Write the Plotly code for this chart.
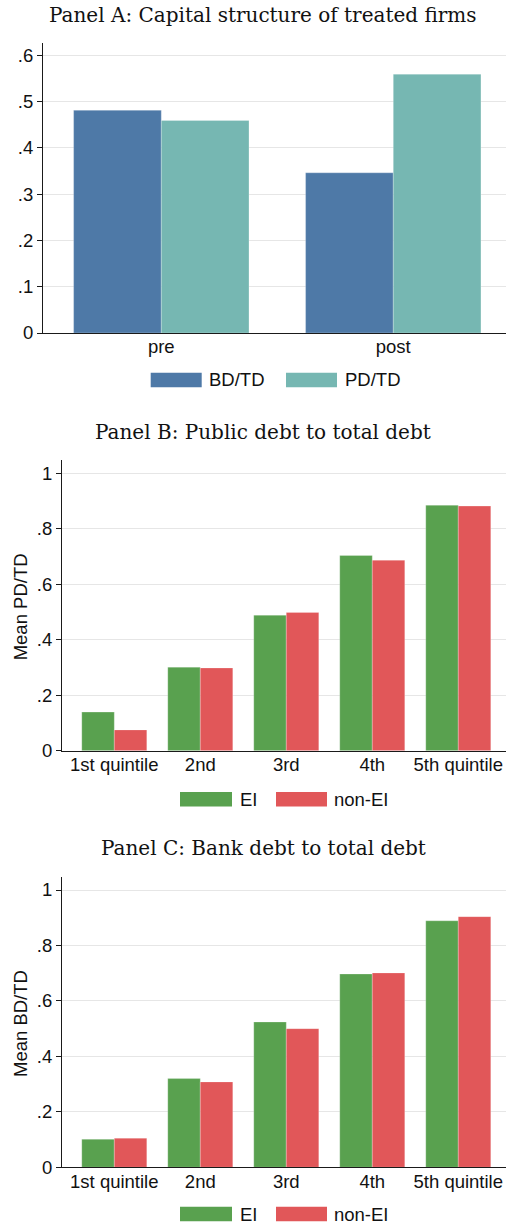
import plotly.graph_objects as go

# ---- data -------------------------------------------------------------
periods = ["pre", "post"]
bd_td = [0.481, 0.346]
pd_td = [0.459, 0.559]

quintiles = ["1st quintile", "2nd", "3rd", "4th", "5th quintile"]
ei_pd = [0.139, 0.301, 0.488, 0.703, 0.884]
nonei_pd = [0.075, 0.298, 0.498, 0.686, 0.881]
ei_bd = [0.101, 0.320, 0.524, 0.697, 0.889]
nonei_bd = [0.105, 0.308, 0.500, 0.701, 0.904]

ticks_a = [0, 0.1, 0.2, 0.3, 0.4, 0.5, 0.6]
ticklabels_a = ["0", ".1", ".2", ".3", ".4", ".5", ".6"]
ticks_bc = [0, 0.2, 0.4, 0.6, 0.8, 1.0]
ticklabels_bc = ["0", ".2", ".4", ".6", ".8", "1"]

# ---- styling ----------------------------------------------------------
W, H = 506, 1226
BLUE, TEAL = "#4E79A7", "#76B7B2"
GREEN, RED = "#59A14F", "#E15759"
SANS = "Liberation Sans, Arial, Helvetica, sans-serif"
SERIF = "DejaVu Serif, Liberation Serif, serif"
GRID = "#e6e6e6"
FS = 18.5


def fx(px):
    return px / W


def fy(px):
    return 1 - px / H


fig = go.Figure()

fig.add_trace(go.Bar(x=periods, y=bd_td, name="BD/TD", marker_color=BLUE,
                     xaxis="x", yaxis="y"))
fig.add_trace(go.Bar(x=periods, y=pd_td, name="PD/TD", marker_color=TEAL,
                     xaxis="x", yaxis="y"))
fig.add_trace(go.Bar(x=quintiles, y=ei_pd, name="EI", marker_color=GREEN,
                     xaxis="x2", yaxis="y2"))
fig.add_trace(go.Bar(x=quintiles, y=nonei_pd, name="non-EI", marker_color=RED,
                     xaxis="x2", yaxis="y2"))
fig.add_trace(go.Bar(x=quintiles, y=ei_bd, name="EI", marker_color=GREEN,
                     xaxis="x3", yaxis="y3"))
fig.add_trace(go.Bar(x=quintiles, y=nonei_bd, name="non-EI", marker_color=RED,
                     xaxis="x3", yaxis="y3"))
fig.update_traces(marker_line_width=0.8,
                  marker_line_color="rgba(255,255,255,0.3)", showlegend=False)

xcommon = dict(showline=True, linecolor="#1a1a1a", linewidth=1, ticks="",
               showgrid=False, zeroline=False, fixedrange=True, automargin=False,
               ticklabelstandoff=-3,
               tickfont=dict(family=SANS, size=FS, color="#111"))
ycommon = dict(showline=True, linecolor="#1a1a1a", linewidth=1,
               ticks="outside", ticklen=5, tickcolor="#1a1a1a", tickwidth=1,
               showgrid=True, gridcolor=GRID, gridwidth=1, zeroline=False,
               fixedrange=True, automargin=False,
               tickfont=dict(family=SANS, size=FS, color="#111"))

# panel geometry (pixels from the top-left corner)
A = dict(left=43, top=42.7, bottom=333)
B = dict(left=62, top=460, bottom=750.7)
C = dict(left=62, top=876.7, bottom=1167.3)

fig.update_layout(
    width=W, height=H, margin=dict(l=0, r=0, t=0, b=0, pad=0, autoexpand=False),
    paper_bgcolor="white", plot_bgcolor="white",
    barmode="group", bargap=0.244, bargroupgap=0, showlegend=False,
    xaxis=dict(xcommon, domain=[fx(A["left"]), 1], range=[-0.51, 1.486],
               anchor="y"),
    yaxis=dict(ycommon, domain=[fy(A["bottom"]), fy(A["top"])],
               range=[0, 0.627], tickvals=ticks_a, ticktext=ticklabels_a,
               anchor="x"),
    xaxis2=dict(xcommon, domain=[fx(B["left"]), 1], range=[-0.608, 4.555],
                anchor="y2"),
    yaxis2=dict(ycommon, domain=[fy(B["bottom"]), fy(B["top"])],
                range=[0, 1.047], tickvals=ticks_bc, ticktext=ticklabels_bc,
                anchor="x2"),
    xaxis3=dict(xcommon, domain=[fx(C["left"]), 1], range=[-0.608, 4.555],
                anchor="y3"),
    yaxis3=dict(ycommon, domain=[fy(C["bottom"]), fy(C["top"])],
                range=[0, 1.048], tickvals=ticks_bc, ticktext=ticklabels_bc,
                anchor="x3"),
)

annotations = []
shapes = []

# panel titles
titles = [("Panel A: Capital structure of treated firms", 15),
          ("Panel B: Public debt to total debt", 432.3),
          ("Panel C: Bank debt to total debt", 848.3)]
for text, yc in titles:
    annotations.append(dict(text=text, x=fx(263), y=fy(yc), xref="paper",
                            yref="paper", xanchor="center", yanchor="middle",
                            showarrow=False,
                            font=dict(family=SERIF, size=20, color="#111")))

# y-axis titles
for text, panel in [("Mean PD/TD", B), ("Mean BD/TD", C)]:
    annotations.append(dict(text=text, textangle=-90, x=fx(20),
                            y=fy((panel["top"] + panel["bottom"]) / 2 + 2),
                            xref="paper", yref="paper", xanchor="center",
                            yanchor="middle", showarrow=False,
                            font=dict(family=SANS, size=FS, color="#111")))

# legends
legends = [
    (380, [(BLUE, "BD/TD", 150.7, 201.7, 209), (TEAL, "PD/TD", 286, 337, 345)]),
    (799.3, [(GREEN, "EI", 180, 232, 240), (RED, "non-EI", 276, 327, 334)]),
    (1214, [(GREEN, "EI", 180, 232, 240), (RED, "non-EI", 276, 327, 334)]),
]
for yc, items in legends:
    for color, label, x0, x1, xt in items:
        shapes.append(dict(type="rect", xref="paper", yref="paper",
                           x0=fx(x0), x1=fx(x1), y0=fy(yc + 7.3), y1=fy(yc - 7.3),
                           fillcolor=color, line=dict(width=0)))
        annotations.append(dict(text=label, x=fx(xt - 2), y=fy(yc),
                                xref="paper", yref="paper", xanchor="left",
                                yanchor="middle", showarrow=False,
                                font=dict(family=SANS, size=FS, color="#111")))

fig.update_layout(annotations=annotations, shapes=shapes)

fig.write_html("out.html", config={"displayModeBar": False})
